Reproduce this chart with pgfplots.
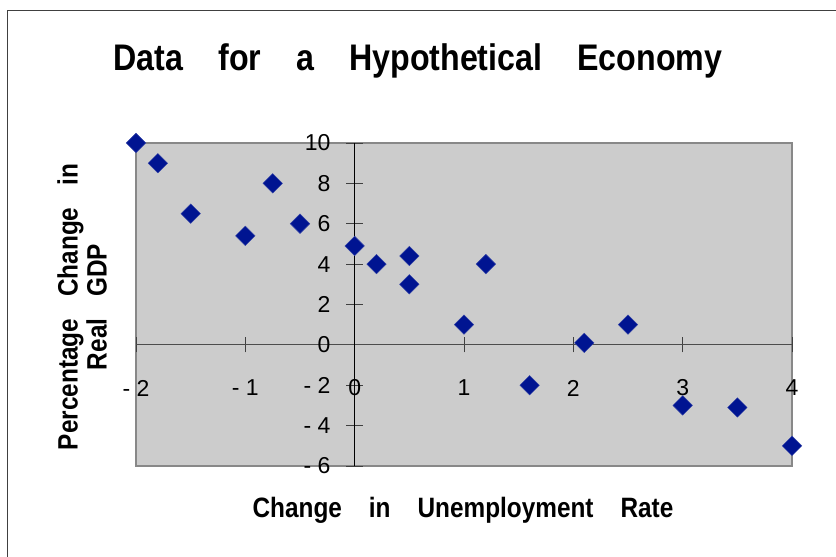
\documentclass[border=0pt]{standalone}
\usepackage{pgfplots}
\pgfplotsset{compat=1.18}
\usepackage{fontspec}
\setmainfont{Liberation Sans}
\newfontfamily\cond{Liberation Sans}[FakeStretch=0.87]
\definecolor{plotgray}{RGB}{204,204,204}
\definecolor{bordergray}{RGB}{136,136,136}
\definecolor{navy}{RGB}{0,20,145}
\begin{document}
\begin{tikzpicture}[x=1bp,y=1bp]
\useasboundingbox (0,0) rectangle (836,557);
\draw[line width=1bp, color=black!75] (7.5,0) -- (7.5,546.5) -- (836,546.5);
\filldraw[fill=plotgray, draw=bordergray, line width=2bp] (136,91) rectangle (792,414);
\node[font=\cond\fontsize{37bp}{42bp}\selectfont\bfseries] at (418,496)
  {Data\hspace{35bp}for\hspace{35bp}a\hspace{35bp}Hypothetical\hspace{35bp}Economy};
\node[font=\cond\fontsize{28bp}{32bp}\selectfont\bfseries] at (463,47)
  {Change\hspace{27bp}in\hspace{27bp}Unemployment\hspace{27bp}Rate};
\node[font=\cond\fontsize{28bp}{32bp}\selectfont\bfseries, rotate=90, align=center] at (82,250)
  {Percentage\hspace{22bp}Change\hspace{22bp}in\\[-3bp]Real\hspace{22bp}GDP};
\begin{axis}[
  at={(136bp,91bp)}, anchor=south west,
  scale only axis, width=656bp, height=323bp,
  xmin=-2, xmax=4, ymin=-6, ymax=10,
  axis lines=middle,
  axis line style={-},
  x axis line style={draw=black!70, line width=1bp},
  y axis line style={draw=black, line width=1bp},
  hide obscured x ticks=false, hide obscured y ticks=false,
  xtick={-2,-1,0,1,2,3,4},
  xticklabels={- 2,- 1,0,1,2,3,4},
  ytick={-6,-4,-2,0,2,4,6,8,10},
  yticklabels={- 6,- 4,- 2,0,2,4,6,8,10},
  tick align=center,
  x tick style={draw=black!75, line width=0.8bp},
  y tick style={draw=black!75, line width=0.8bp},
  xtick style={/pgfplots/major tick length=15bp},
  ytick style={/pgfplots/major tick length=17bp},
  xticklabel style={anchor=center, yshift=-41bp, font=\fontsize{23bp}{27bp}\selectfont, inner sep=0pt},
  yticklabel style={anchor=east, xshift=-22bp, font=\fontsize{23bp}{27bp}\selectfont, inner sep=0pt},
  clip=false,
]
\addplot[only marks, mark=square*, mark size=6.9bp,
  mark options={rotate=45, fill=navy, draw=navy!80!white, line width=0.4bp}]
  coordinates {
  (-2,10) (-1.8,9) (-1.5,6.5) (-1,5.4) (-0.75,8) (-0.5,6)
  (0,4.9) (0.2,4) (0.5,4.4) (0.5,3) (1,1) (1.2,4)
  (1.6,-2) (2.1,0.1) (2.5,1) (3,-3) (3.5,-3.1) (4,-5)
  };
\end{axis}
\end{tikzpicture}
\end{document}
